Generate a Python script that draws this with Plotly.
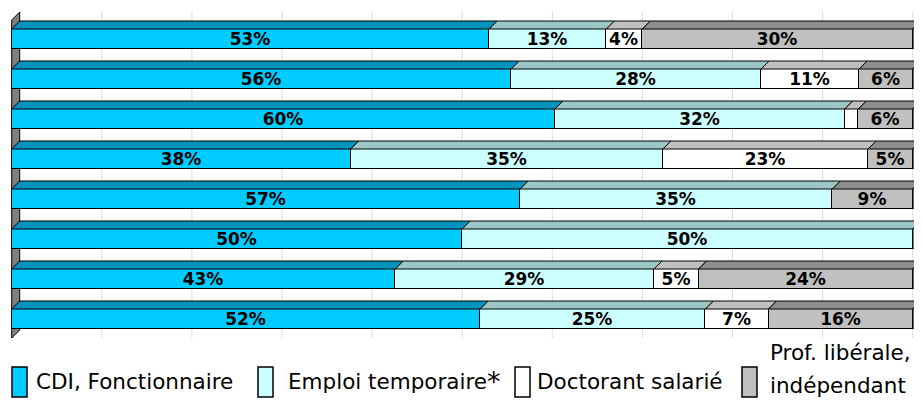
import numpy as np
import plotly.graph_objects as go

# rows from top to bottom, values in % as printed on the bars
cdi = [53, 56, 60, 38, 57, 50, 43, 52]
temporaire = [13, 28, 32, 35, 35, 50, 29, 25]
doctorant = [4, 11, 1.5, 23, 0, 0, 5, 7]
liberal = [30, 6, 6, 5, 9, 0, 24, 16]

series_names = ["CDI, Fonctionnaire", "Emploi temporaire", "Doctorant salarié",
                "Prof. libérale, indépendant"]
front_colors = ["#00CCFF", "#CCFFFF", "#FFFFFF", "#C0C0C0"]
top_colors = ["#0093BD", "#9CC6C6", "#C0C0C0", "#8E8E8E"]
side_colors = ["#007A9E", "#80AAAA", "#A0A0A0", "#808080"]

# the page body has an 8px margin, so the figure is drawn 8px smaller
# and every target pixel is shifted by OFF
OFF = 8
W, H = 922 - OFF, 403 - OFF
X0, PX = 11.7 - OFF, 9.01      # pixel of 0 %, pixels per %
ROW0, ROWPX = 39 - OFF, 40     # pixel of first row centre, pixels per row
PLOT_B = 345 - OFF             # pixel bottom of plot area

raw = np.array([cdi, temporaire, doctorant, liberal], dtype=float)
vals = raw / raw.sum(axis=0) * 100
n = raw.shape[1]
rows = np.arange(n)
cum = np.vstack([np.zeros(n), np.cumsum(vals, axis=0)])

half = 0.25
dx = 8 / PX
dy = 8 / ROWPX

fig = go.Figure()

# front faces
for s in range(4):
    labels = ["" if v < 2 else "%d%%" % round(v) for v in raw[s]]
    fig.add_trace(go.Bar(
        y=rows, x=vals[s], orientation="h", width=2 * half,
        marker=dict(color=front_colors[s], line=dict(color="black", width=1)),
        text=labels, textposition="inside", insidetextanchor="middle", textangle=0,
        textfont=dict(family="DejaVu Sans", size=17, color="black", weight="bold"),
        hoverinfo="skip", showlegend=False, name=series_names[s]))

# top faces
for s in range(4):
    xs, ys = [], []
    for i in rows:
        if vals[s][i] <= 0:
            continue
        a, b = cum[s][i], cum[s + 1][i]
        yt = i - half
        xs += [a, b, b + dx, a + dx, a, None]
        ys += [yt, yt, yt - dy, yt - dy, yt, None]
    fig.add_trace(go.Scatter(x=xs, y=ys, mode="lines", fill="toself",
                             fillcolor=top_colors[s], line=dict(color="black", width=1),
                             hoverinfo="skip", showlegend=False))

# right side faces (last non-zero segment of each row)
for s in range(4):
    xs, ys = [], []
    for i in rows:
        last = max(k for k in range(4) if vals[k][i] > 0)
        if last != s:
            continue
        b = cum[s + 1][i]
        xs += [b, b, b + dx, b + dx, b, None]
        ys += [i - half, i + half, i + half - dy, i - half - dy, i - half, None]
    if xs:
        fig.add_trace(go.Scatter(x=xs, y=ys, mode="lines", fill="toself",
                                 fillcolor=side_colors[s], line=dict(color="black", width=1),
                                 hoverinfo="skip", showlegend=False))

# gridlines and left wall
shapes = []
for g in range(10, 101, 10):
    shapes.append(dict(type="line", xref="x", yref="y", x0=g, x1=g,
                       y0=-half - 1.7 * dy - 0.1, y1=n - 1 + 0.475,
                       line=dict(color="#DCDCDC", width=1), layer="below"))
top_y = -0.475
bot_y = n - 1 + 0.475
shapes.append(dict(type="path", xref="x", yref="y", layer="below",
                   path="M 0 %f L %f %f L %f %f L 0 %f Z" % (
                       top_y, dx, top_y - dy, dx, bot_y - dy, bot_y),
                   fillcolor="#808080", line=dict(color="black", width=1)))


def px_x(p):
    return (p - OFF) / W


def px_y(p):
    return (PLOT_B - (p - OFF)) / PLOT_B


# legend drawn by hand: tall boxes as in the original
box_x = [12, 258, 515, 742]
text_x = [34, 286, 535, 768]
annotations = []
for s in range(4):
    shapes.append(dict(type="rect", xref="paper", yref="paper",
                       x0=px_x(box_x[s]), x1=px_x(box_x[s] + 15),
                       y0=px_y(397), y1=px_y(367),
                       fillcolor=front_colors[s], line=dict(color="black", width=1.5)))
legend_font = dict(family="DejaVu Sans", size=21.5, color="black")
for s in range(3):
    annotations.append(dict(x=px_x(text_x[s]), y=px_y(382), xref="paper", yref="paper",
                            text=series_names[s], showarrow=False, xanchor="left",
                            yanchor="middle", font=legend_font))
annotations.append(dict(x=px_x(485), y=px_y(382), xref="paper", yref="paper", text="*",
                        showarrow=False, xanchor="left", yanchor="middle",
                        font=dict(family="DejaVu Sans", size=27, color="black")))
parts = series_names[3].split(", ")
annotations.append(dict(x=px_x(text_x[3]), y=px_y(352), xref="paper", yref="paper",
                        text=parts[0] + ",", showarrow=False, xanchor="left",
                        yanchor="middle", font=legend_font))
annotations.append(dict(x=px_x(text_x[3]), y=px_y(385), xref="paper", yref="paper",
                        text=parts[1], showarrow=False, xanchor="left",
                        yanchor="middle", font=legend_font))

fig.update_layout(
    barmode="stack", bargap=0,
    width=W, height=H,
    margin=dict(l=0, r=0, t=0, b=H - PLOT_B),
    plot_bgcolor="white", paper_bgcolor="white",
    shapes=shapes, annotations=annotations,
    uniformtext=dict(minsize=17, mode="show"),
)
fig.update_xaxes(range=[-X0 / PX, (W - X0) / PX], visible=False, fixedrange=True)
fig.update_yaxes(range=[(PLOT_B - ROW0) / ROWPX, -ROW0 / ROWPX], visible=False,
                 fixedrange=True)

fig.write_html("out.html")
